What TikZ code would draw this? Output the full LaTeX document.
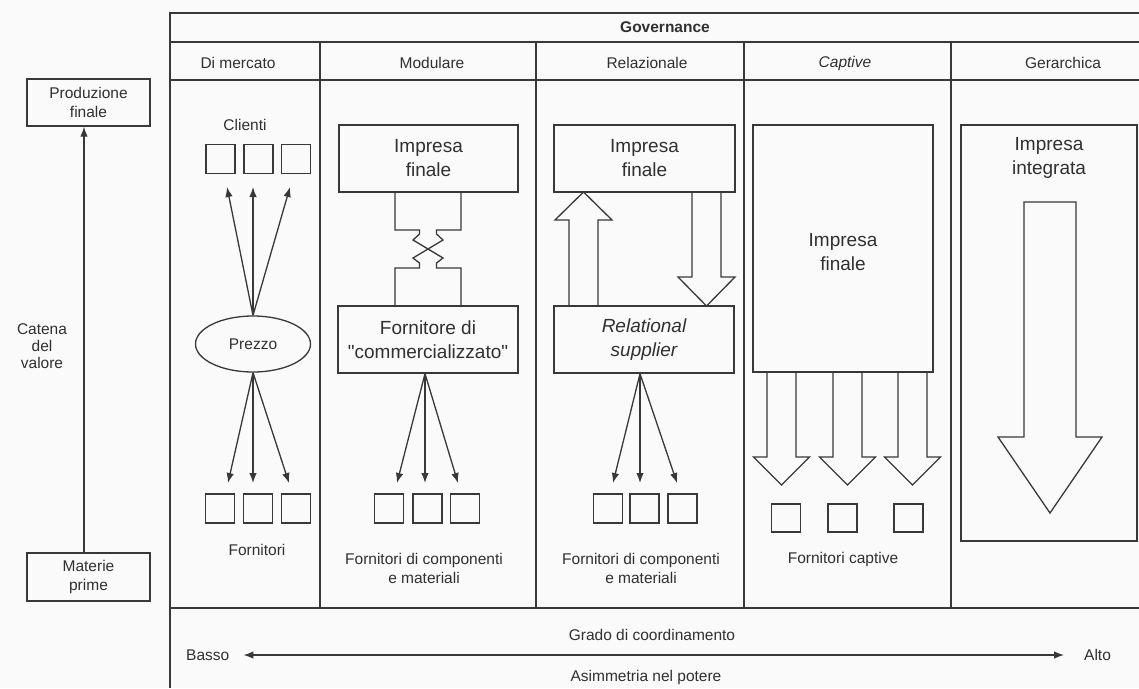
\documentclass[tikz,border=0pt]{standalone}
\usepackage{fontspec}
\setmainfont{Liberation Sans}
\newfontfamily\nolig{Liberation Sans}[Ligatures=TeXOff]
\usetikzlibrary{arrows.meta,shapes.geometric,calc}
\definecolor{lc}{HTML}{383838}
\definecolor{tc}{HTML}{303030}
\definecolor{bgc}{HTML}{FAFAFA}
\newcommand{\smtxt}{\fontsize{15.5}{19}\selectfont}
\newcommand{\bigtxt}{\fontsize{19}{24}\selectfont}
\newcommand{\sq}{{\nolig\symbol{34}}}
\newcommand{\harrowdown}[6]{\draw[blk] ({#1-#5},#2) -- ({#1-#5},#3) -- ({#1-#6},#3) -- (#1,#4) -- ({#1+#6},#3) -- ({#1+#5},#3) -- ({#1+#5},#2);}
\begin{document}
\begin{tikzpicture}[x=1pt,y=-1pt,
  ln/.style={draw=lc, line width=1.3pt},
  box/.style={draw=lc, line width=1.3pt, inner sep=0pt, align=center, text=tc},
  sqbox/.style={draw=lc, line width=1.3pt, minimum width=29pt, minimum height=29pt, inner sep=0pt},
  lbl/.style={text=tc, align=center, inner sep=0pt, font=\smtxt},
  big/.style={text=tc, align=center, inner sep=0pt, font=\bigtxt},
  arr/.style={draw=lc, line width=1.3pt, -{Latex[length=10pt,width=7.5pt]}},
  blk/.style={draw=lc, line width=1.3pt, line join=miter}]
\useasboundingbox (0,0) rectangle (1139,688);
\fill[bgc] (0,0) rectangle (1139,688);

% frame
\draw[ln] (1139,13) -- (170,13) -- (170,688);
\draw[ln] (170,42) -- (1139,42);
\draw[ln] (170,80) -- (1139,80);
\draw[ln] (170,608) -- (1139,608);
\foreach \x in {320,536,744,951} \draw[ln] (\x,42) -- (\x,608);

% headers
\node[lbl, font=\smtxt\bfseries] (gov) at (665,27) {Governance};
\node[lbl] (h1) at (238,63) {Di mercato};
\node[lbl] (h2) at (432,63) {Modulare};
\node[lbl] (h3) at (647,63) {Relazionale};
\node[lbl, font=\smtxt\itshape] (h4) at (845,63) {Captive};
\node[lbl] (h5) at (1063,63) {Gerarchica};

% left value chain
\node[box, font=\smtxt, minimum width=123pt, minimum height=47pt] (prod) at (88.5,102.5) {Produzione\\finale};
\node[box, font=\smtxt, minimum width=123pt, minimum height=48pt] (mat) at (88.5,577) {Materie\\prime};
\draw[arr] ([xshift=-4.5pt]mat.north) -- ([xshift=-4.5pt]prod.south);
\node[lbl, font=\fontsize{15.5}{17}\selectfont] (catena) at (42,346) {Catena\\del\\valore};

% Di mercato
\node[lbl] (clienti) at (245,125) {Clienti};
\node[sqbox] (c1) at (220.5,159) {};
\node[sqbox] (c2) at (258.5,159) {};
\node[sqbox] (c3) at (296,159) {};
\node[draw=lc, line width=1.3pt, ellipse, minimum width=115pt, minimum height=56pt, inner sep=0pt, font=\smtxt, text=tc] (prezzo) at (253,344) {Prezzo};
\coordinate (ct1) at (227,187);
\coordinate (ct2) at (253,187);
\coordinate (ct3) at (290,187);
\foreach \t in {ct1,ct2,ct3} \draw[arr] (prezzo.north) -- (\t);
\node[sqbox] (f1) at (220,508.5) {};
\node[sqbox] (f2) at (258,508.5) {};
\node[sqbox] (f3) at (296,508.5) {};
\coordinate (ft1) at (228,483);
\coordinate (ft2) at (253,483);
\coordinate (ft3) at (289,483);
\foreach \t in {ft1,ft2,ft3} \draw[arr] (prezzo.south) -- (\t);
\node[lbl] (fornitori) at (257,550) {Fornitori};

% Modulare
\node[box, font=\bigtxt, minimum width=179pt, minimum height=67pt] (mif) at (428.5,158.5) {Impresa\\finale};
\node[box, font=\bigtxt, minimum width=180pt, minimum height=67pt] (mfc) at (428,339.5) {Fornitore di\\\sq commercializzato\sq};
\draw[blk] (395,192) -- (395,230) -- (419.5,230) -- (419.5,234) -- (413,240) -- (443,258) -- (436.5,263) -- (436.5,268) -- (461,268) -- (461,306);
\draw[blk] (461,192) -- (461,230) -- (436.5,230) -- (436.5,234) -- (443,240) -- (413,258) -- (419.5,263) -- (419.5,268) -- (395,268) -- (395,306);
\coordinate (mo) at ($(mfc.south)+(-3,0)$);
\coordinate (mt1) at (397,483);
\coordinate (mt2) at (425,483);
\coordinate (mt3) at (458,483);
\foreach \t in {mt1,mt2,mt3} \draw[arr] (mo) -- (\t);
\node[sqbox] (m1) at (389,508.5) {};
\node[sqbox] (m2) at (427.5,508.5) {};
\node[sqbox] (m3) at (465,508.5) {};
\node[lbl] (mtxt) at (424,568) {Fornitori di componenti\\e materiali};

% Relazionale
\node[box, font=\bigtxt, minimum width=181pt, minimum height=67pt] (rif) at (644.5,158.5) {Impresa\\finale};
\node[box, font=\bigtxt\itshape, minimum width=180pt, minimum height=67pt] (rs) at (644,339.5) {Relational\\supplier};
\draw[blk] (569,306) -- (569,220) -- (555,220) -- (583.5,192) -- (612,220) -- (598,220) -- (598,306);
\draw[blk] (692,192) -- (692,277) -- (678,277) -- (706.5,306) -- (735,277) -- (721,277) -- (721,192);
\coordinate (ro) at ($(rs.south)+(-4,0)$);
\coordinate (rt1) at (613,483);
\coordinate (rt2) at (640,483);
\coordinate (rt3) at (677,483);
\foreach \t in {rt1,rt2,rt3} \draw[arr] (ro) -- (\t);
\node[sqbox] (r1) at (608,508.5) {};
\node[sqbox] (r2) at (644.5,508.5) {};
\node[sqbox] (r3) at (682.5,508.5) {};
\node[lbl] (rtxt) at (641,568) {Fornitori di componenti\\e materiali};

% Captive
\node[box, minimum width=180pt, minimum height=247pt] (cif) at (843,248.5) {};
\node[big] (ciftxt) at (843,252) {Impresa\\finale};
\harrowdown{781.5}{372}{457}{485}{14.5}{28}
\harrowdown{847.5}{372}{457}{485}{14.5}{28}
\harrowdown{912.5}{372}{457}{485}{14.5}{28}
\node[sqbox, minimum height=28pt] (k1) at (786,518) {};
\node[sqbox, minimum height=28pt] (k2) at (842.5,518) {};
\node[sqbox, minimum height=28pt] (k3) at (908.5,518) {};
\node[lbl] (ktxt) at (843,559) {Fornitori captive};

% Gerarchica
\node[box, minimum width=176pt, minimum height=416pt] (gbox) at (1049,333) {};
\node[big] (gtxt) at (1049,158) {Impresa\\integrata};
\draw[blk] (1024,202) -- (1024,437) -- (998,437) -- (1050,513) -- (1102,437) -- (1076,437) -- (1076,202) -- cycle;

% bottom axis
\node[lbl] (grado) at (652,635) {Grado di coordinamento};
\node[lbl] (asim) at (646,677) {Asimmetria nel potere};
\node[lbl, anchor=west] (basso) at (186,655) {Basso};
\node[lbl, anchor=west] (alto) at (1084,655) {Alto};
\draw[draw=lc, line width=1.3pt, {Latex[length=10pt,width=7.5pt]}-{Latex[length=10pt,width=7.5pt]}, shorten <=14pt, shorten >=20pt] (basso.east) -- (alto.west);
\end{tikzpicture}
\end{document}
